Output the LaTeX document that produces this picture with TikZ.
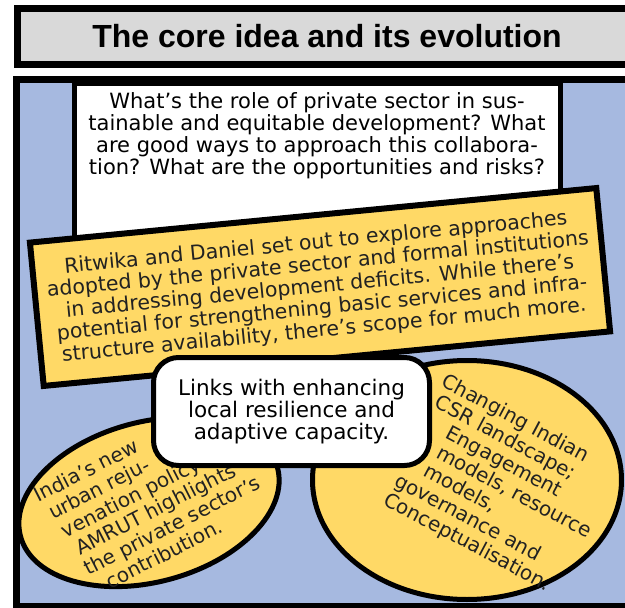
\documentclass[tikz,border=0pt]{standalone}
\usepackage{fontspec}
\setmainfont{DejaVu Sans}
\newfontfamily\titlefont{Liberation Sans}
\usepackage{tikz}
\usetikzlibrary{shapes.geometric, positioning}
\definecolor{panelblue}{RGB}{166,185,224}
\definecolor{noteyellow}{RGB}{255,217,102}
\definecolor{titlegray}{RGB}{217,217,217}
\definecolor{inkgray}{RGB}{34,34,34}

\begin{document}
\begin{tikzpicture}[x=1pt, y=-1pt]
% Define comic panel styles
\tikzstyle{frame} = [draw=black, line width=7pt]
\tikzstyle{titlebar} = [rectangle, draw=black, line width=7pt, fill=titlegray, minimum width=620pt, minimum height=56pt, anchor=west, font=\titlefont\bfseries\fontsize{32}{36}\selectfont]
\tikzstyle{box} = [rectangle, draw=black, line width=5pt, fill=white]
\tikzstyle{note} = [rectangle, draw=black, line width=6pt, fill=noteyellow, minimum width=569pt, minimum height=144pt, text=inkgray, align=center, font=\fontsize{20.5}{22}\selectfont]
\tikzstyle{bubble} = [box, rounded corners=25pt, minimum width=276pt, minimum height=108pt, align=center, font=\fontsize{21.5}{22}\selectfont]
\tikzstyle{blob} = [ellipse, draw=black, line width=5pt, fill=noteyellow, inner sep=0pt]
\tikzstyle{blobtext} = [text=inkgray, align=left, inner sep=0pt, font=\fontsize{20}{22}\selectfont]
% Canvas
\useasboundingbox (0,0) rectangle (625,608);
\clip (0,0) rectangle (625,608);
% Title bar and panel
\node[titlebar] (Title) at (13.5,36.5) {The core idea and its evolution};
\draw[frame, fill=panelblue] (16,79) rectangle (640,606);
% Question box
\node[box, minimum width=486pt, minimum height=160pt, anchor=north] (QuestionBox) at (317,80.5) {};
\node[align=center, font=\fontsize{21}{22}\selectfont] (Question) at (317,136) {What's the role of private sector in sus-\\tainable and equitable development? What\\are good ways to approach this collabora-\\tion? What are the opportunities and risks?};
% Yellow note
\node[note, rotate=5.5] (Summary) at (320,287) {Ritwika and Daniel set out to explore approaches\\adopted by the private sector and formal institutions\\in addressing development deficits. While there's\\potential for strengthening basic services and infra-\\structure availability, there's scope for much more.};
% Ellipses
\node[blob, rotate=15, minimum width=266pt, minimum height=160pt] (AmrutBlob) at (149,502) {};
\node[blobtext, rotate=27, anchor=west] (Amrut) at (60,545) {India's new\\\hspace*{5pt}urban reju-\\\hspace*{8pt}venation policy\\\hspace*{13pt}AMRUT highlights\\\hspace*{11pt}the private sector's\\\hspace*{25pt}contribution.};
\node[blob, minimum width=309pt, minimum height=239pt] (CsrBlob) at (467,480) {};
\node[blobtext, rotate=-28, anchor=west] (Csr) at (412,439) {Changing Indian\\\hspace*{4pt}CSR landscape;\\\hspace*{28pt}Engagement\\\hspace*{29pt}models, resource\\\hspace*{26pt}models,\\\hspace*{5pt}governance and\\\hspace*{4pt}Conceptualisation.};
% Speech bubble
\node[bubble] (Links) at (291.5,411.5) {Links with enhancing\\local resilience and\\adaptive capacity.};
\end{tikzpicture}
\end{document}
